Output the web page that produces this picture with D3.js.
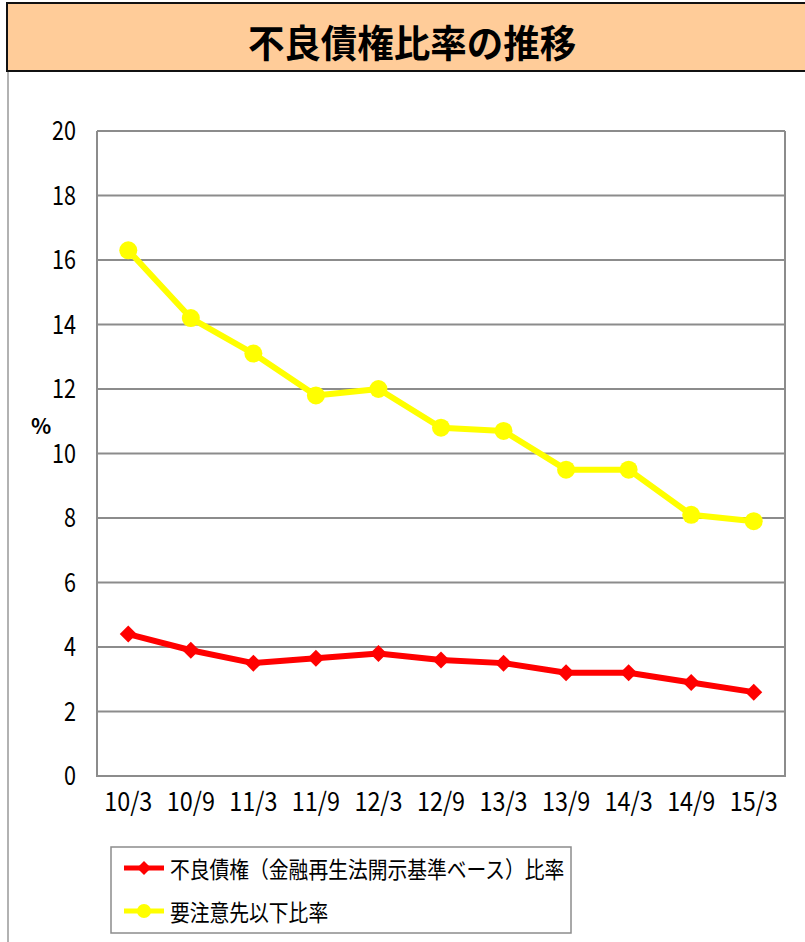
<!DOCTYPE html>
<html>
<head>
<meta charset="utf-8">
<script src="https://cdn.jsdelivr.net/npm/d3@7"></script>
<style>
  body { margin: 0; background: #fff; }
  svg { display: block; }
  text { font-family: "Noto Sans CJK JP", "Noto Sans", sans-serif; }
</style>
</head>
<body>
<svg id="chart" width="805" height="942"></svg>
<script>
// Half-year periods (year/month)
const periods = ["10/3", "10/9", "11/3", "11/9", "12/3", "12/9", "13/3", "13/9", "14/3", "14/9", "15/3"];
// 不良債権（金融再生法開示基準ベース）比率 (%)
const npRatio = [4.4, 3.9, 3.5, 3.65, 3.8, 3.6, 3.5, 3.2, 3.2, 2.9, 2.6];
// 要注意先以下比率 (%)
const watchRatio = [16.3, 14.2, 13.1, 11.8, 12.0, 10.8, 10.7, 9.5, 9.5, 8.1, 7.9];
const yTicks = [0, 2, 4, 6, 8, 10, 12, 14, 16, 18, 20];

const title = "不良債権比率の推移";
const seriesNames = ["不良債権（金融再生法開示基準ベース）比率", "要注意先以下比率"];

const svg = d3.select("#chart");

// Narrow text horizontally around an anchor point (ax, ay)
function condensed(parent, ax, ay, sx) {
  return parent.append("g").attr("transform", `translate(${ax},${ay}) scale(${sx},1)`);
}

// Frame on the left edge
svg.append("line").attr("x1", 8).attr("x2", 8).attr("y1", 70).attr("y2", 942)
  .attr("stroke", "#999").attr("stroke-width", 1.5);

// Title banner
svg.append("rect").attr("x", 7).attr("y", 3).attr("width", 810).attr("height", 68)
  .attr("fill", "#FFCC99").attr("stroke", "#111").attr("stroke-width", 2);
condensed(svg, 412, 41, 0.96).append("text")
  .attr("text-anchor", "middle").attr("dominant-baseline", "central")
  .attr("font-size", 38).attr("font-weight", "bold").attr("fill", "#000")
  .text(title);

const plotL = 97, plotR = 785, plotT = 131, plotB = 776;

const x = d3.scaleBand().domain(periods).range([plotL, plotR]);
const y = d3.scaleLinear().domain([0, 20]).range([plotB, plotT]);

// Gridlines
svg.append("g").selectAll("line").data(yTicks).join("line")
  .attr("x1", plotL).attr("x2", plotR)
  .attr("y1", d => y(d)).attr("y2", d => y(d))
  .attr("stroke", "#8c8c8c").attr("stroke-width", 2);

// Plot border (left, right, bottom)
svg.append("path")
  .attr("d", `M${plotL},${plotT}V${plotB}H${plotR}V${plotT}`)
  .attr("fill", "none").attr("stroke", "#8c8c8c").attr("stroke-width", 2);

// Y axis labels
const ySX = 0.8;
const yAxis = d3.axisLeft(y).tickValues(yTicks).tickSize(0).tickPadding(21);
const gy = svg.append("g").attr("transform", `translate(${plotL},0)`).call(yAxis);
gy.select(".domain").remove();
gy.selectAll("text")
  .attr("font-size", 27).attr("fill", "#000")
  .attr("font-family", "'Noto Sans CJK JP', sans-serif")
  .attr("x", -21 / ySX)
  .attr("transform", `scale(${ySX},1)`);

// X axis labels
const xSX = 0.9;
const xAxis = d3.axisBottom(x).tickSize(0).tickPadding(17);
const gx = svg.append("g").attr("transform", `translate(0,${plotB})`).call(xAxis);
gx.select(".domain").remove();
gx.selectAll("text")
  .attr("font-size", 26).attr("fill", "#000")
  .attr("font-family", "'Noto Sans CJK JP', sans-serif")
  .attr("transform", `scale(${xSX},1)`);

// Unit label
svg.append("text").attr("x", 41).attr("y", 425)
  .attr("text-anchor", "middle").attr("dominant-baseline", "central")
  .attr("font-size", 21).attr("font-weight", "bold").text("%");

const cx = d => x(d) + x.bandwidth() / 2;
const line = d3.line().x(d => cx(d.p)).y(d => y(d.v));

const watchData = periods.map((p, i) => ({ p, v: watchRatio[i] }));
const npData = periods.map((p, i) => ({ p, v: npRatio[i] }));

// Yellow series with circles
svg.append("path").datum(watchData).attr("d", line)
  .attr("fill", "none").attr("stroke", "#FFFF00").attr("stroke-width", 6)
  .attr("stroke-linejoin", "round");
svg.append("g").selectAll("circle").data(watchData).join("circle")
  .attr("cx", d => cx(d.p)).attr("cy", d => y(d.v)).attr("r", 9)
  .attr("fill", "#FFFF00");

// Red series with diamonds
svg.append("path").datum(npData).attr("d", line)
  .attr("fill", "none").attr("stroke", "#FF0000").attr("stroke-width", 6)
  .attr("stroke-linejoin", "round");
const diamond = "M0,-8.5L8.5,0L0,8.5L-8.5,0Z";
svg.append("g").selectAll("path").data(npData).join("path")
  .attr("transform", d => `translate(${cx(d.p)},${y(d.v)})`)
  .attr("d", diamond).attr("fill", "#FF0000");

// Legend
const lg = svg.append("g");
lg.append("rect").attr("x", 111).attr("y", 847).attr("width", 460).attr("height", 86)
  .attr("fill", "#fff").attr("stroke", "#8c8c8c").attr("stroke-width", 1.5);
const legendItems = [
  { name: seriesNames[0], color: "#FF0000", shape: "diamond", yy: 868 },
  { name: seriesNames[1], color: "#FFFF00", shape: "circle", yy: 911 }
];
legendItems.forEach(it => {
  lg.append("line").attr("x1", 124).attr("x2", 164).attr("y1", it.yy).attr("y2", it.yy)
    .attr("stroke", it.color).attr("stroke-width", 5);
  if (it.shape === "diamond") {
    lg.append("path").attr("transform", `translate(144,${it.yy})`)
      .attr("d", "M0,-7L7,0L0,7L-7,0Z").attr("fill", it.color);
  } else {
    lg.append("circle").attr("cx", 144).attr("cy", it.yy).attr("r", 7).attr("fill", it.color);
  }
  condensed(lg, 170, it.yy, 0.86).append("text")
    .attr("dominant-baseline", "central")
    .attr("font-size", 23).attr("fill", "#000").text(it.name);
});
</script>
</body>
</html>
